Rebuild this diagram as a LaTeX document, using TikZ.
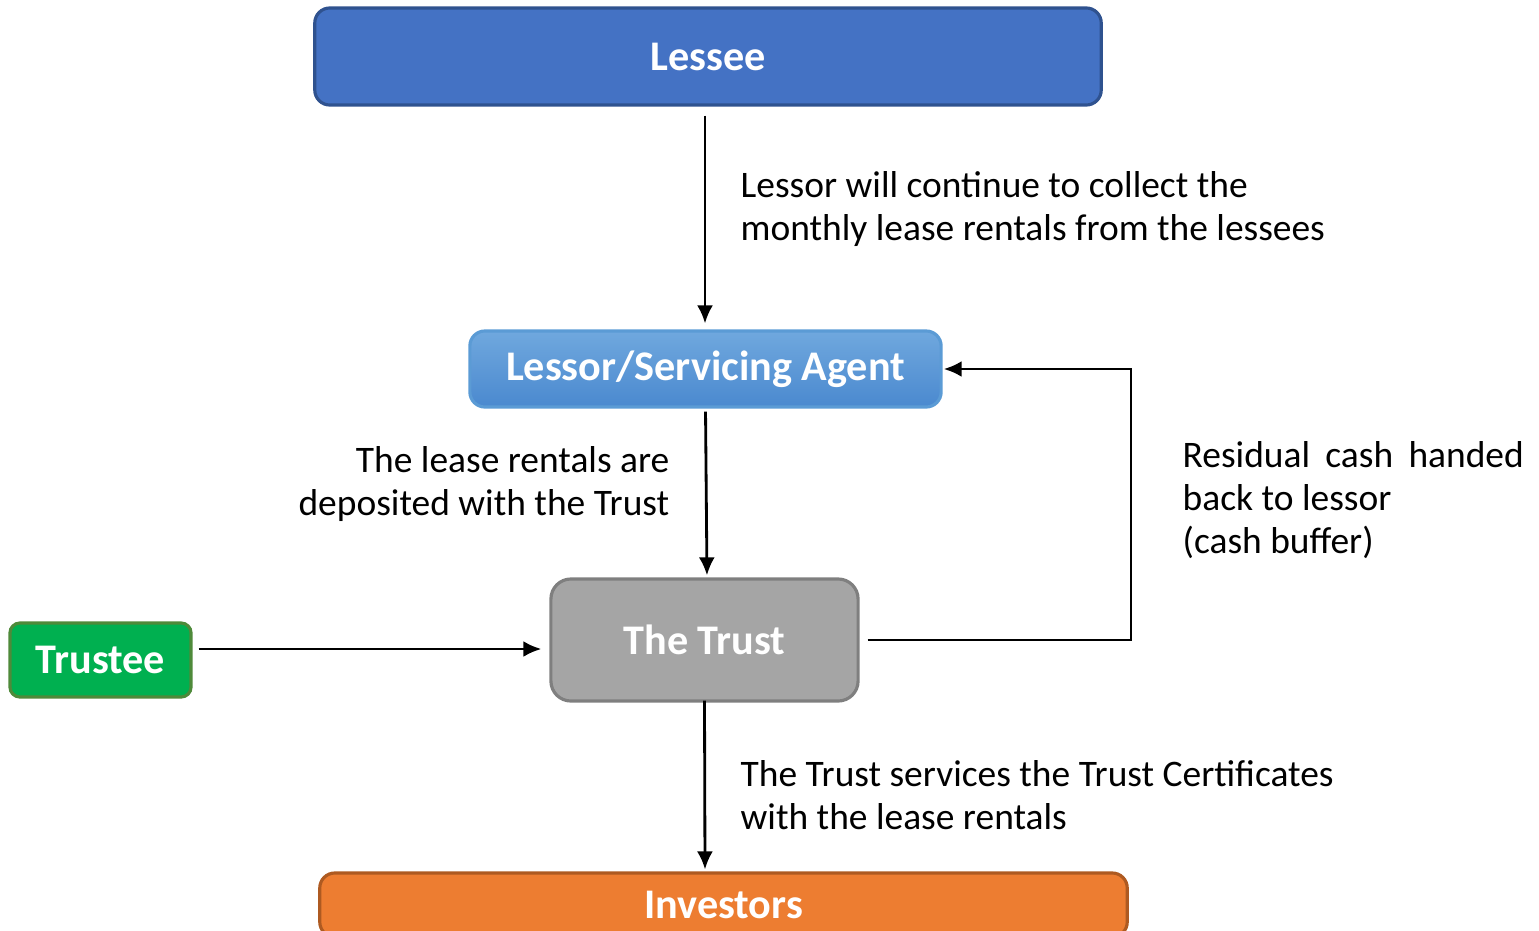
\documentclass[tikz,border=0pt]{standalone}
\usepackage{fontspec}
\setmainfont{Carlito}
\usepackage{tikz}
\usetikzlibrary{arrows.meta}
\definecolor{lesseeblue}{HTML}{4472C4}
\definecolor{lesseeedge}{HTML}{2F528F}
\definecolor{agenttop}{HTML}{70A8DE}
\definecolor{agentbot}{HTML}{4A89CF}
\definecolor{agentedge}{HTML}{5B9BD5}
\definecolor{trustgray}{HTML}{A5A5A5}
\definecolor{trustedge}{HTML}{7F7F7F}
\definecolor{trusteegreen}{HTML}{00B050}
\definecolor{trusteeedge}{HTML}{4E8A3A}
\definecolor{investorange}{HTML}{ED7D31}
\definecolor{investedge}{HTML}{AE5A21}
\tikzset{
  party/.style={rounded corners=0.15cm, line width=0.9pt, text=white,
    font=\fontsize{12}{14}\selectfont\bfseries, inner sep=0pt},
  flow/.style={-{Latex[length=0.18cm,width=0.16cm]}, line width=0.8pt},
  note/.style={font=\fontsize{10.65}{12.2}\selectfont, inner sep=0pt}
}

\begin{document}
\begin{tikzpicture}[x=0.01cm,y=-0.01cm]
\useasboundingbox (0,0) rectangle (1539,930);
\clip (0,0) rectangle (1539,930);
% boxes
\node[party, fill=lesseeblue, draw=lesseeedge, minimum width=7.86cm, minimum height=0.97cm] (lessee) at (708,56.5) {Lessee};
\node[party, top color=agenttop, bottom color=agentbot, draw=agentedge, minimum width=4.71cm, minimum height=0.76cm] (agent) at (705.5,369) {Lessor/Servicing Agent};
\node[party, fill=trustgray, draw=trustedge, rounded corners=0.2cm, minimum width=3.07cm, minimum height=1.22cm] (trust) at (704.5,640) {The Trust};
\node[party, fill=trusteegreen, draw=trusteeedge, rounded corners=0.1cm, minimum width=1.81cm, minimum height=0.74cm] (trustee) at (100.5,660) {Trustee};
\node[party, fill=investorange, draw=investedge, minimum width=8.07cm, minimum height=0.64cm] (investors) at (723.5,905) {Investors};
% flows
\draw[flow, shorten <=0.09cm, shorten >=0.06cm] (lessee.south -| 705,0) -- (agent.north -| 705,0);
\draw[flow, shorten <=0.03cm, shorten >=0.02cm] (agent.south) -- (trust.north -| 707,0);
\draw[flow, shorten <=-0.02cm, shorten >=0.02cm] (trust.south) -- (investors.north -| 705,0);
\coordinate (tin) at ([xshift=0.06cm,yshift=0.11cm]trustee.east);
\draw[flow] (tin) -- ([xshift=-0.08cm]trust.west |- tin);
\coordinate (back) at (1131,640);
\draw[flow] ([xshift=0.08cm]trust.east) -- (back) |- ([xshift=0.01cm]agent.east);
% notes (base = last line)
\node[note, anchor=base west, align=left] (collect) at (740,240) {Lessor will continue to collect the\\monthly lease rentals from the lessees};
\node[note, anchor=base east, align=right] (deposit) at (670,515) {The lease rentals are\\deposited with the Trust};
\node[note, anchor=base west, align=left] (service) at (740,829) {The Trust services the Trust Certificates\\with the lease rentals};
\node[note, anchor=base west, align=left] (residual) at (1182,553) {\makebox[3.41cm][s]{Residual cash handed}\\back to lessor\\(cash buffer)};
\end{tikzpicture}
\end{document}
